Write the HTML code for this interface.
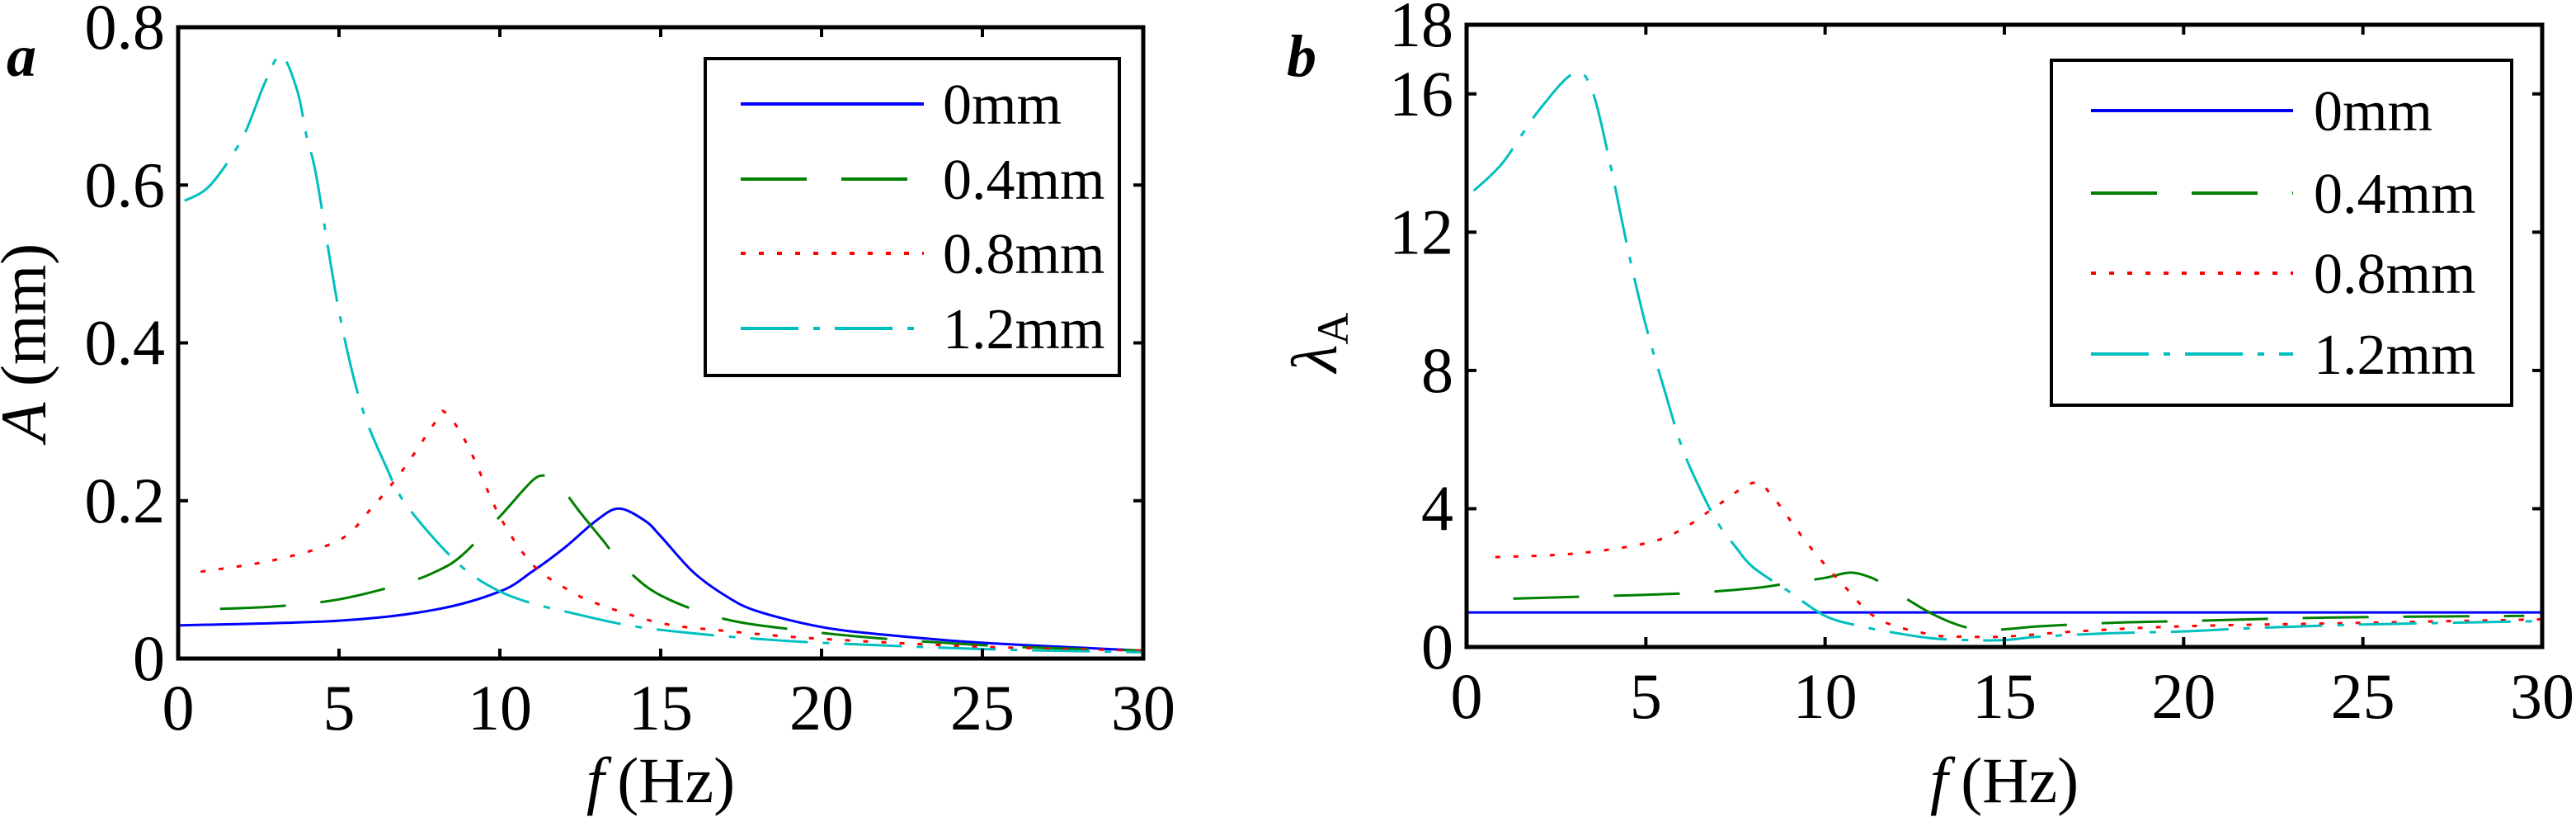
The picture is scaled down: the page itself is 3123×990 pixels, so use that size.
<!DOCTYPE html>
<html><head><meta charset="utf-8"><style>
html,body{margin:0;padding:0;background:#fff;}
svg{display:block;}
svg text{font-family:"Liberation Serif","Times New Roman",serif;}
</style></head><body>
<svg id="chart" width="3123" height="990" viewBox="0 0 3123 990" xmlns="http://www.w3.org/2000/svg" font-family="Liberation Serif, serif">
<rect width="3123" height="990" fill="#fff"/>
<g id="pa"></g>
<g id="pb"></g>
</svg>
<script>
// Panel a data (A in mm)
const xTicks = [0,5,10,15,20,25,30];
const aTicks = [0,0.2,0.4,0.6,0.8];
const aTickLabels = ["0","0.2","0.4","0.6","0.8"];
const a0f = [0,5,8,10,11,12,13,13.7,14.5,15,16,17,18,20,22,25,30];
const a0v = [0.042,0.048,0.062,0.085,0.11,0.14,0.175,0.19,0.175,0.155,0.11,0.08,0.06,0.04,0.03,0.02,0.01];
const a4f = [1.3,3,5,7,8,8.8,10,11,11.4,11.7,12.5,13.2,13.9,15,17,19.5,22,26,30];
const a4v = [0.063,0.066,0.075,0.095,0.11,0.13,0.18,0.225,0.232,0.228,0.185,0.15,0.115,0.08,0.05,0.035,0.025,0.015,0.01];
const a8f = [0.7,3,5,6,7,8,8.3,9,10,11,12,13,15,17,20,25,30];
const a8v = [0.11,0.125,0.15,0.19,0.24,0.3,0.312,0.27,0.18,0.12,0.09,0.07,0.045,0.035,0.025,0.015,0.01];
const a12f = [0.2,1,2,2.7,3.2,3.7,4,4.3,5,5.7,6.5,7,8,9,10,11,12,14,16,18,20,25,30];
const a12v = [0.58,0.6,0.66,0.73,0.764,0.72,0.66,0.61,0.44,0.32,0.24,0.2,0.15,0.11,0.085,0.07,0.06,0.042,0.032,0.025,0.02,0.012,0.008];
// Panel b data (lambda_A)
const lTicks = [0,4,8,12,16,18];
const lTickLabels = ["0","4","8","12","16","18"];
const b0f = [0,30];
const b0v = [1,1];
const b4f = [1.3,3,6,8,9,10,10.7,11.3,11.8,13,14,14.8,16,18,20,24,29.5];
const b4v = [1.4,1.45,1.55,1.7,1.85,2.0,2.15,2.0,1.7,0.95,0.55,0.5,0.6,0.7,0.75,0.85,0.9];
const b8f = [0.8,3,5,6,7,8,8.5,9.5,10.5,11.5,13,14,15,17,20,25,30];
const b8v = [2.6,2.7,3.0,3.4,4.1,4.75,4.4,3.0,1.8,0.8,0.35,0.3,0.3,0.45,0.6,0.7,0.8];
const b12f = [0.2,1,2,3,3.5,4,4.5,5,5.5,6,6.5,7,7.5,8,9,10,11,12,13,14,15,16,18,20,22,25,30];
const b12v = [13.2,14,15.5,16.6,16.1,14,11.5,9.3,7.5,5.8,4.6,3.6,2.9,2.3,1.6,0.9,0.6,0.4,0.25,0.2,0.2,0.3,0.4,0.45,0.55,0.65,0.75];

const NS="http://www.w3.org/2000/svg";
const FF="Liberation Serif, serif";
function mk(parent,tag,attrs,text){const e=document.createElementNS(NS,tag);for(const k in attrs)e.setAttribute(k,attrs[k]);if(tag==="text")e.setAttribute("font-family",FF);if(text!==undefined)e.textContent=text;parent.appendChild(e);return e;}
const styles=[
 {c:"#0000ff",d:"none",name:"0mm"},
 {c:"#008000",d:"80 42",name:"0.4mm"},
 {c:"#ff0000",d:"6 16",name:"0.8mm"},
 {c:"#00bfbf",d:"70 18 8 18",name:"1.2mm"}];

function smoothPath(pts){
  let d="M"+pts[0][0].toFixed(1)+","+pts[0][1].toFixed(1);
  for(let i=0;i<pts.length-1;i++){
    const p0=pts[Math.max(0,i-1)],p1=pts[i],p2=pts[i+1],p3=pts[Math.min(pts.length-1,i+2)];
    const c1=[p1[0]+(p2[0]-p0[0])/6,p1[1]+(p2[1]-p0[1])/6];
    const c2=[p2[0]-(p3[0]-p1[0])/6,p2[1]-(p3[1]-p1[1])/6];
    d+="C"+c1[0].toFixed(1)+","+c1[1].toFixed(1)+" "+c2[0].toFixed(1)+","+c2[1].toFixed(1)+" "+p2[0].toFixed(1)+","+p2[1].toFixed(1);
  }
  return d;
}

function panel(g,P){
  const sx=v=>P.x0+(v-0)/30*(P.x1-P.x0);
  const sy=v=>P.y0-(v/P.ymax)*(P.y0-P.y1);
  P.series.forEach((s,i)=>{
    const st=styles[i];
    const pts=s[0].map((f,j)=>[sx(f),sy(s[1][j])]);
    const p=mk(g,"path",{d:smoothPath(pts),fill:"none",stroke:st.c,"stroke-width":3,"stroke-dasharray":st.d});
    
    
  });
  const box=mk(g,"rect",{x:P.x0,y:P.y1,width:P.x1-P.x0,height:P.y0-P.y1,fill:"none",stroke:"#000","stroke-width":5});
  
  
  xTicks.forEach(t=>{
    const x=sx(t);
    mk(g,"line",{x1:x,x2:x,y1:P.y0,y2:P.y0-12,stroke:"#000","stroke-width":4});
    mk(g,"line",{x1:x,x2:x,y1:P.y1,y2:P.y1+12,stroke:"#000","stroke-width":4});
    const tx=mk(g,"text",{x:x,y:P.y0+86,"font-size":78,"text-anchor":"middle"},String(t));
    
    
  });
  P.yt.forEach((t,i)=>{
    const y=sy(t);
    mk(g,"line",{x1:P.x0,x2:P.x0+12,y1:y,y2:y,stroke:"#000","stroke-width":4});
    mk(g,"line",{x1:P.x1,x2:P.x1-12,y1:y,y2:y,stroke:"#000","stroke-width":4});
    const tx=mk(g,"text",{x:P.x0-16,y:y+26,"font-size":78,"text-anchor":"end"},P.ytl[i]);
    
    
  });
  const xt=mk(g,"text",{x:(P.x0+P.x1)/2,y:972,"font-size":78,"text-anchor":"middle"});
  
  
  const ti=mk(xt,"tspan",{"font-style":"italic"},"f");
  mk(xt,"tspan",{},"\u2009(Hz)");
  const L=P.leg;
  const lg=mk(g,"g",{});
  
  
  mk(lg,"rect",{x:L.x,y:L.y,width:L.w,height:L.h,fill:"#fff",stroke:"#000","stroke-width":4});
  styles.forEach((st,i)=>{
    const yy=L.rows[i];
    const e=mk(lg,"g",{});
    
    
    mk(e,"line",{x1:L.lx0,x2:L.lx1,y1:yy,y2:yy,stroke:st.c,"stroke-width":4,"stroke-dasharray":st.d});
    mk(e,"text",{x:L.tx,y:yy+24,"font-size":70},st.name);
  });
}

const A={x0:216,x1:1386,y0:798,y1:33,ymax:0.8,yt:aTicks,ytl:aTickLabels,
 series:[[a0f,a0v],[a4f,a4v],[a8f,a8v],[a12f,a12v]],
 leg:{x:855,y:71,w:502,h:384,rows:[126,217,307,398],lx0:898,lx1:1120,tx:1143}};
const B={x0:1778,x1:3082,y0:784,y1:30,ymax:18,yt:lTicks,ytl:lTickLabels,
 series:[[b0f,b0v],[b4f,b4v],[b8f,b8v],[b12f,b12v]],
 leg:{x:2487,y:73,w:558,h:418,rows:[134,234,331,429],lx0:2535,lx1:2780,tx:2805}};
const ga=document.getElementById('pa'),gb=document.getElementById('pb');
panel(ga,A);panel(gb,B);

let t=mk(ga,"text",{transform:"translate(55,415) rotate(-90)","font-size":78,"text-anchor":"middle"});


mk(t,"tspan",{"font-style":"italic"},"A");
mk(t,"tspan",{}," (mm)");
t=mk(gb,"text",{transform:"translate(1620,415) rotate(-90)","font-size":78,"text-anchor":"middle"});


mk(t,"tspan",{"font-style":"italic"},"\u03bb");
mk(t,"tspan",{"font-size":54,dy:14},"A");
t=mk(ga,"text",{x:8,y:92,"font-size":72,"font-style":"italic","font-weight":"bold"},"a");


t=mk(gb,"text",{x:1560,y:92,"font-size":72,"font-style":"italic","font-weight":"bold"},"b");


</script>
</body></html>
